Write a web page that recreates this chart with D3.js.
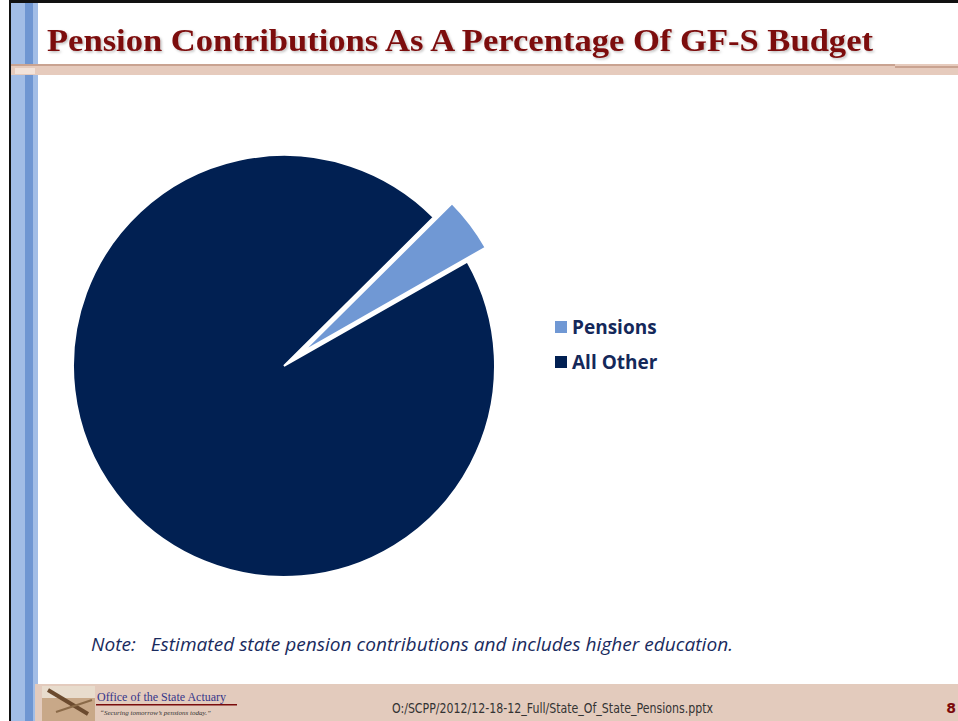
<!DOCTYPE html>
<html>
<head>
<meta charset="utf-8">
<script src="https://cdn.jsdelivr.net/npm/d3@7"></script>
<style>
  body { margin: 0; background: #fff; }
  svg { display: block; }
</style>
</head>
<body>
<div class="pie-chart"></div>
<script>
// data
const categories = ["Pensions", "All Other"];
const shares = [4.2, 95.8];
const colors = ["#7098d4", "#012052"];

const width = 958, height = 721;

const svg = d3.select(".pie-chart")
  .append("svg")
  .attr("width", width)
  .attr("height", height);

const defs = svg.append("defs");
const shadow = defs.append("filter").attr("id", "shadow")
  .attr("x", "-5%").attr("y", "-20%").attr("width", "110%").attr("height", "150%");
shadow.append("feDropShadow")
  .attr("dx", 1.5).attr("dy", 1.5).attr("stdDeviation", 1)
  .attr("flood-color", "#000").attr("flood-opacity", 0.25);

// slide frame
svg.append("rect").attr("x", 9).attr("y", 0).attr("width", width - 9).attr("height", 3).attr("fill", "#111");
svg.append("rect").attr("x", 9).attr("y", 0).attr("width", 2).attr("height", height).attr("fill", "#111");
svg.append("rect").attr("x", 11).attr("y", 3).attr("width", 27).attr("height", height).attr("fill", "#a2bde6");
svg.append("rect").attr("x", 25).attr("y", 3).attr("width", 8).attr("height", height).attr("fill", "#6f96d2");

// band under title
svg.append("rect").attr("x", 11).attr("y", 64).attr("width", width - 11).attr("height", 11).attr("fill", "#e6cbbd");
svg.append("rect").attr("x", 11).attr("y", 64).attr("width", 884).attr("height", 2).attr("fill", "#c9a391");
svg.append("rect").attr("x", 895).attr("y", 66).attr("width", width - 895).attr("height", 2).attr("fill", "#c9a391");
svg.append("rect").attr("x", 15).attr("y", 68).attr("width", 20).attr("height", 6).attr("fill", "#f3e3da");

// title
svg.append("text")
  .attr("x", 47).attr("y", 51)
  .attr("textLength", 826).attr("lengthAdjust", "spacingAndGlyphs")
  .attr("font-family", "'Liberation Serif', serif")
  .attr("font-weight", "bold")
  .attr("font-size", 32)
  .attr("fill", "#7c0a0a")
  .attr("filter", "url(#shadow)")
  .text("Pension Contributions As A Percentage Of GF-S Budget");

// pie
const cx = 284, cy = 366, radius = 211, explode = 23;
const pie = d3.pie().sort(null)
  .startAngle(45.2 * Math.PI / 180)
  .endAngle(45.2 * Math.PI / 180 + 2 * Math.PI);
const arc = d3.arc().innerRadius(0).outerRadius(radius);
const arcs = pie(shares);

const pieG = svg.append("g").attr("transform", "translate(" + cx + "," + cy + ")");
pieG.selectAll("path")
  .data(arcs)
  .enter()
  .append("path")
    .attr("d", arc)
    .attr("fill", function(d, i) { return colors[i]; })
    .attr("stroke", "#fff")
    .attr("stroke-width", 2)
    .attr("stroke-linejoin", "miter")
    .attr("transform", function(d, i) {
      if (i !== 0) return null;
      const mid = (d.startAngle + d.endAngle) / 2;
      return "translate(" + (Math.sin(mid) * explode) + "," + (-Math.cos(mid) * explode) + ")";
    });

// legend
const legend = svg.append("g").attr("transform", "translate(555,320)");
const item = legend.selectAll("g")
  .data(categories)
  .enter()
  .append("g")
    .attr("transform", function(d, i) { return "translate(0," + (i * 35) + ")"; });
item.append("rect")
  .attr("x", 0).attr("y", 1).attr("width", 12).attr("height", 12)
  .attr("fill", function(d, i) { return colors[i]; });
item.append("text")
  .attr("x", 17).attr("y", 14)
  .attr("font-family", "'Open Sans', sans-serif")
  .attr("font-weight", "bold")
  .attr("font-size", 19)
  .attr("fill", "#14285a")
  .text(function(d) { return d; });

// note
svg.append("text")
  .attr("x", 91).attr("y", 651)
  .attr("font-family", "'Open Sans', sans-serif")
  .attr("font-style", "italic")
  .attr("font-size", 18)
  .attr("textLength", 642).attr("lengthAdjust", "spacingAndGlyphs")
  .attr("fill", "#1a2b5e")
  .attr("xml:space", "preserve")
  .text("Note:   Estimated state pension contributions and includes higher education.");

// footer
svg.append("rect").attr("x", 35).attr("y", 684).attr("width", width - 35).attr("height", height - 684).attr("fill", "#e3cbbd");
const logo = svg.append("g");
logo.append("rect").attr("x", 42).attr("y", 686).attr("width", 53).attr("height", 35).attr("fill", "#c8a888");
logo.append("rect").attr("x", 42).attr("y", 686).attr("width", 53).attr("height", 12).attr("fill", "#e8dccd");
logo.append("line").attr("x1", 48).attr("y1", 690).attr("x2", 88).attr("y2", 714)
  .attr("stroke", "#6b4a2e").attr("stroke-width", 4);
logo.append("line").attr("x1", 56).attr("y1", 712).attr("x2", 92).attr("y2", 700)
  .attr("stroke", "#8a6a48").attr("stroke-width", 2);

svg.append("text")
  .attr("x", 97).attr("y", 701)
  .attr("font-family", "'Liberation Serif', serif")
  .attr("font-size", 12)
  .attr("fill", "#35358a")
  .text("Office of the State Actuary");
svg.append("rect").attr("x", 96).attr("y", 704).attr("width", 141).attr("height", 1.5).attr("fill", "#7a0c0c");
svg.append("text")
  .attr("x", 100).attr("y", 715)
  .attr("font-family", "'Liberation Serif', serif")
  .attr("font-style", "italic")
  .attr("font-size", 7)
  .attr("fill", "#333")
  .text("\u201cSecuring tomorrow\u2019s pensions today.\u201d");

svg.append("text")
  .attr("x", 392).attr("y", 713)
  .attr("font-family", "'DejaVu Sans', sans-serif")
  .attr("font-size", 14)
  .attr("textLength", 321).attr("lengthAdjust", "spacingAndGlyphs")
  .attr("fill", "#333")
  .text("O:/SCPP/2012/12-18-12_Full/State_Of_State_Pensions.pptx");

svg.append("text")
  .attr("x", 956).attr("y", 713)
  .attr("text-anchor", "end")
  .attr("font-family", "'DejaVu Sans', sans-serif")
  .attr("font-weight", "bold")
  .attr("font-size", 14)
  .attr("fill", "#7c0a0a")
  .text("8");
</script>
</body>
</html>
